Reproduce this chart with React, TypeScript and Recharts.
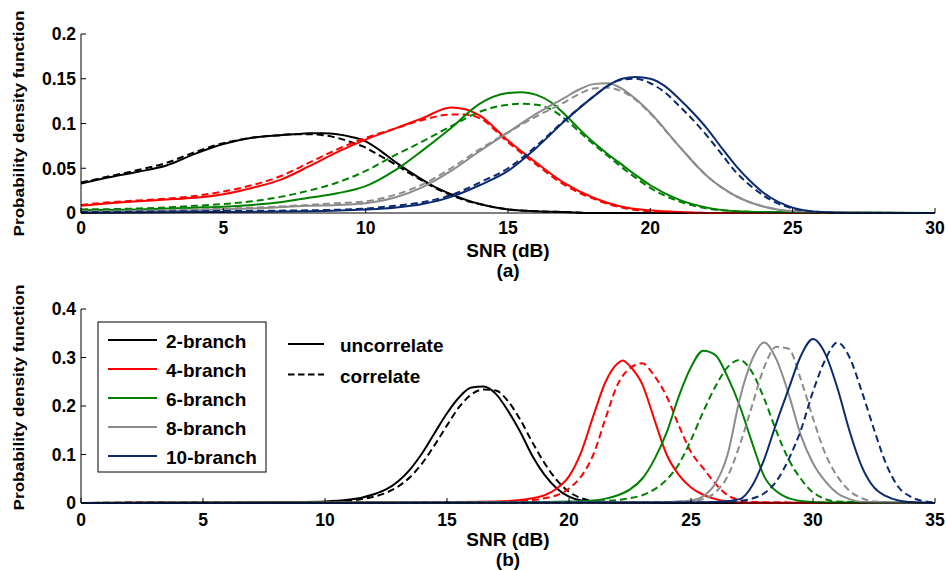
import { LineChart, Line, XAxis, YAxis } from 'recharts'

const FONT = '"Liberation Sans", Arial, Helvetica, sans-serif'

const branchNames = ['2-branch', '4-branch', '6-branch', '8-branch', '10-branch']
const branchColors = ['#000000', '#ff0000', '#008000', '#8c8c8c', '#0c2b6e']
const styleNames = ['uncorrelate', 'correlate']

// panel (a): SNR grid + pdf for uncorrelated / correlated
const aTicksX = [0, 5, 10, 15, 20, 25, 30]
const aTicksY = [0, 0.05, 0.1, 0.15, 0.2]

const a2x = [0, 1, 2, 3, 4, 5, 6, 7, 7.5, 8, 8.5, 9, 9.5, 10, 10.5, 11, 11.5, 12, 12.5, 13, 13.5, 14, 15, 16, 17, 18, 30]
const a2Unc = [0.033, 0.04, 0.046, 0.053, 0.066, 0.077, 0.084, 0.087, 0.088, 0.089, 0.089, 0.088, 0.085, 0.08, 0.07, 0.058, 0.047, 0.037, 0.028, 0.021, 0.015, 0.01, 0.004, 0.002, 0.001, 0, 0]
const a2Cor = [0.034, 0.041, 0.048, 0.056, 0.068, 0.078, 0.084, 0.087, 0.088, 0.088, 0.087, 0.084, 0.079, 0.073, 0.064, 0.055, 0.045, 0.036, 0.027, 0.02, 0.014, 0.01, 0.004, 0.002, 0.001, 0, 0]

const a4x = [0, 1, 2, 3, 4, 5, 6, 7, 8, 9, 10, 11, 12, 13, 13.5, 14, 15, 16, 17, 18, 19, 20, 21, 22, 30]
const a4Unc = [0.008, 0.011, 0.013, 0.015, 0.017, 0.021, 0.028, 0.037, 0.052, 0.068, 0.082, 0.094, 0.106, 0.118, 0.116, 0.109, 0.081, 0.056, 0.033, 0.017, 0.007, 0.003, 0.001, 0, 0]
const a4Cor = [0.009, 0.012, 0.014, 0.016, 0.019, 0.024, 0.031, 0.041, 0.056, 0.071, 0.084, 0.094, 0.104, 0.11, 0.11, 0.106, 0.079, 0.054, 0.031, 0.016, 0.006, 0.002, 0.001, 0, 0]

const a6x = [0, 2, 4, 5, 6, 7, 8, 9, 10, 11, 12, 13, 14, 15, 15.5, 16, 16.5, 17, 17.5, 18, 18.5, 19, 19.5, 20, 21, 22, 23, 24, 30]
const a6Unc = [0.003, 0.004, 0.006, 0.007, 0.009, 0.012, 0.017, 0.022, 0.03, 0.047, 0.07, 0.095, 0.122, 0.134, 0.135, 0.132, 0.124, 0.11, 0.094, 0.079, 0.066, 0.054, 0.042, 0.031, 0.015, 0.006, 0.002, 0.001, 0]
const a6Cor = [0.004, 0.005, 0.008, 0.01, 0.013, 0.018, 0.025, 0.034, 0.047, 0.064, 0.08, 0.097, 0.113, 0.121, 0.122, 0.121, 0.116, 0.105, 0.091, 0.077, 0.064, 0.051, 0.039, 0.028, 0.013, 0.005, 0.002, 0.001, 0]

const a8x = [0, 4, 6, 8, 9, 10, 11, 12, 13, 14, 15, 16, 17, 17.5, 18, 18.5, 19, 19.5, 20, 21, 22, 23, 24, 25, 26, 30]
const a8Unc = [0.001, 0.003, 0.005, 0.008, 0.009, 0.011, 0.017, 0.029, 0.047, 0.069, 0.09, 0.111, 0.129, 0.138, 0.144, 0.145, 0.139, 0.127, 0.112, 0.075, 0.041, 0.019, 0.007, 0.002, 0.001, 0]
const a8Cor = [0.002, 0.004, 0.006, 0.009, 0.011, 0.013, 0.02, 0.032, 0.05, 0.071, 0.09, 0.108, 0.124, 0.133, 0.139, 0.14, 0.136, 0.126, 0.111, 0.075, 0.041, 0.019, 0.007, 0.002, 0.001, 0]

const a10x = [0, 4, 8, 10, 11, 12, 13, 14, 15, 16, 17, 18, 18.5, 19, 19.5, 20, 20.5, 21, 21.5, 22, 22.5, 23, 23.5, 24, 25, 26, 27, 30]
const a10Unc = [0, 0.001, 0.002, 0.004, 0.006, 0.01, 0.018, 0.031, 0.047, 0.073, 0.103, 0.13, 0.142, 0.15, 0.152, 0.15, 0.142, 0.128, 0.112, 0.094, 0.073, 0.053, 0.036, 0.022, 0.006, 0.001, 0, 0]
const a10Cor = [0.001, 0.002, 0.003, 0.005, 0.008, 0.012, 0.02, 0.034, 0.05, 0.075, 0.104, 0.13, 0.142, 0.149, 0.15, 0.145, 0.135, 0.12, 0.104, 0.086, 0.066, 0.046, 0.031, 0.019, 0.005, 0.001, 0, 0]

// panel (b)
const bTicksX = [0, 5, 10, 15, 20, 25, 30, 35]
const bTicksY = [0, 0.1, 0.2, 0.3, 0.4]

const b2x = [0, 3, 6, 9, 10, 11, 11.5, 12, 12.5, 13, 13.5, 14, 14.5, 15, 15.5, 16, 16.5, 17, 17.5, 18, 18.5, 19, 19.5, 20, 20.5, 21, 22, 35]
const b2Unc = [0, 0.001, 0.001, 0.002, 0.003, 0.007, 0.011, 0.018, 0.028, 0.045, 0.07, 0.104, 0.145, 0.185, 0.218, 0.238, 0.24, 0.225, 0.19, 0.147, 0.097, 0.058, 0.03, 0.013, 0.005, 0.002, 0, 0]
const b2Cor = [0, 0.001, 0.001, 0.002, 0.002, 0.005, 0.008, 0.013, 0.021, 0.034, 0.054, 0.083, 0.12, 0.16, 0.198, 0.224, 0.234, 0.232, 0.21, 0.172, 0.125, 0.082, 0.047, 0.023, 0.01, 0.004, 0.001, 0]

const b4x = [0, 10, 15, 17, 18, 18.5, 19, 19.5, 20, 20.5, 21, 21.5, 22, 22.2, 22.5, 23, 23.5, 24, 24.5, 25, 25.5, 26, 26.5, 27, 27.5, 35]
const b4Unc = [0, 0.001, 0.002, 0.003, 0.006, 0.01, 0.016, 0.03, 0.055, 0.105, 0.18, 0.25, 0.288, 0.294, 0.282, 0.245, 0.172, 0.1, 0.058, 0.032, 0.017, 0.008, 0.003, 0.001, 0, 0]
const b4Cor = [0, 0.001, 0.001, 0.002, 0.004, 0.006, 0.01, 0.016, 0.03, 0.055, 0.1, 0.175, 0.245, 0.262, 0.278, 0.288, 0.262, 0.22, 0.16, 0.105, 0.072, 0.04, 0.016, 0.006, 0.002, 0]

const b6x = [0, 15, 19, 20, 21, 21.5, 22, 22.5, 23, 23.5, 24, 24.5, 25, 25.5, 26, 26.5, 27, 27.5, 28, 28.5, 29, 29.5, 30, 31, 35]
const b6Unc = [0, 0.001, 0.002, 0.003, 0.005, 0.009, 0.016, 0.028, 0.05, 0.09, 0.145, 0.22, 0.28, 0.314, 0.305, 0.26, 0.2, 0.125, 0.055, 0.024, 0.01, 0.004, 0.002, 0.001, 0]
const b6Cor = [0, 0.001, 0.001, 0.002, 0.003, 0.004, 0.006, 0.01, 0.016, 0.028, 0.048, 0.08, 0.13, 0.188, 0.24, 0.28, 0.295, 0.27, 0.215, 0.148, 0.09, 0.05, 0.022, 0.003, 0]

const b8x = [0, 20, 23, 24, 25, 25.5, 26, 26.5, 27, 27.5, 28, 28.5, 29, 29.5, 30, 30.5, 31, 31.5, 32, 32.5, 35]
const b8Unc = [0, 0.001, 0.001, 0.002, 0.005, 0.014, 0.04, 0.1, 0.215, 0.295, 0.331, 0.296, 0.225, 0.14, 0.082, 0.045, 0.02, 0.008, 0.002, 0.001, 0]
const b8Cor = [0, 0.001, 0.001, 0.002, 0.003, 0.008, 0.022, 0.055, 0.12, 0.2, 0.28, 0.322, 0.318, 0.255, 0.175, 0.102, 0.055, 0.025, 0.01, 0.003, 0]

const b10x = [0, 24, 26, 27, 27.5, 28, 28.5, 29, 29.5, 30, 30.5, 31, 31.5, 32, 32.5, 33, 33.5, 34, 34.5, 35]
const b10Unc = [0, 0.001, 0.002, 0.008, 0.035, 0.09, 0.165, 0.235, 0.303, 0.338, 0.308, 0.237, 0.148, 0.075, 0.032, 0.014, 0.005, 0.002, 0.001, 0]
const b10Cor = [0, 0.001, 0.001, 0.004, 0.009, 0.02, 0.045, 0.09, 0.15, 0.23, 0.295, 0.331, 0.3, 0.23, 0.152, 0.08, 0.033, 0.013, 0.004, 0.001]

type Pt = { x: number; y: number }
type Curve = { key: string; color: string; dashed: boolean; data: Pt[] }

const zip = (xs: number[], ys: number[]): Pt[] => xs.map((x, i) => ({ x, y: ys[i] }))

function buildCurves(groups: number[][][]): Curve[] {
  const out: Curve[] = []
  groups.forEach(([xs, unc, cor], i) => {
    out.push({ key: `u${i}`, color: branchColors[i], dashed: false, data: zip(xs, unc) })
    out.push({ key: `c${i}`, color: branchColors[i], dashed: true, data: zip(xs, cor) })
  })
  return out
}

const curvesA = buildCurves([[a2x, a2Unc, a2Cor], [a4x, a4Unc, a4Cor], [a6x, a6Unc, a6Cor], [a8x, a8Unc, a8Cor], [a10x, a10Unc, a10Cor]])
const curvesB = buildCurves([[b2x, b2Unc, b2Cor], [b4x, b4Unc, b4Cor], [b6x, b6Unc, b6Cor], [b8x, b8Unc, b8Cor], [b10x, b10Unc, b10Cor]])

const W = 946
const H = 285
const PLOT_L = 81
const PLOT_R = 935
const TICK_FS = 17.5
const boldText = { fontFamily: FONT, fontWeight: 700 }

// tick renderers so the font really is what we want
const XTick = (props: any) => (
  <text x={props.x} y={props.y} dy="0.72em" textAnchor="middle" fill="#000" style={{ ...boldText, fontSize: TICK_FS }}>
    {String(props.payload.value)}
  </text>
)
const YTick = (props: any) => (
  <text x={props.x} y={props.y} dy="0.36em" textAnchor="end" fill="#000" style={{ ...boldText, fontSize: TICK_FS }}>
    {String(props.payload.value)}
  </text>
)

interface PanelProps {
  top: number
  plotTop: number
  plotBottom: number
  xMax: number
  xTicks: number[]
  yMax: number
  yTicks: number[]
  curves: Curve[]
  tag: string
  tickGap: number
  yLabelMid: number
  snrDy: number
  tagDy: number
}

function Panel(p: PanelProps) {
  const cx = (PLOT_L + PLOT_R) / 2
  return (
    <div style={{ position: 'absolute', left: 0, top: p.top }}>
      <LineChart width={W} height={H} margin={{ top: p.plotTop, right: W - PLOT_R, bottom: H - p.plotBottom - 30, left: 0 }}>
        <XAxis
          xAxisId="b" type="number" dataKey="x" domain={[0, p.xMax]} ticks={p.xTicks} interval={0}
          height={30} stroke="#000" tickSize={-5} tickMargin={p.tickGap} tick={XTick}
          label={() => (
            <g style={{ ...boldText, fontSize: 19 }}>
              <text x={cx} y={p.plotBottom + p.snrDy} textAnchor="middle" fill="#000">SNR (dB)</text>
              <text x={cx} y={p.plotBottom + p.tagDy} textAnchor="middle" fill="#000">{p.tag}</text>
            </g>
          )}
        />
        <XAxis xAxisId="t" orientation="top" type="number" dataKey="x" domain={[0, p.xMax]} ticks={p.xTicks} interval={0}
          height={0} stroke="#000" tickSize={-5} tick={false} />
        <YAxis
          yAxisId="l" type="number" domain={[0, p.yMax]} ticks={p.yTicks} interval={0} width={PLOT_L}
          stroke="#000" tickSize={-5} tickMargin={10} tick={YTick}
          label={() => (
            <text
              x={23.5} y={p.yLabelMid} transform={`rotate(-90 23.5 ${p.yLabelMid})`} textAnchor="middle"
              textLength={226} lengthAdjust="spacingAndGlyphs"
              style={{ ...boldText, fontSize: 15 }} fill="#000"
            >
              Probability density function
            </text>
          )}
        />
        <YAxis yAxisId="r" orientation="right" type="number" domain={[0, p.yMax]} ticks={p.yTicks} interval={0}
          width={0} stroke="#000" tickSize={-5} tick={false} />
        {p.curves.map(c => (
          <Line
            key={c.key} xAxisId="b" yAxisId="l" data={c.data} dataKey="y" type="monotone"
            stroke={c.color} strokeWidth={2} strokeDasharray={c.dashed ? '7 4' : undefined}
            dot={false} activeDot={false} isAnimationActive={false}
          />
        ))}
      </LineChart>
    </div>
  )
}

function Legends() {
  const rowY = (i: number) => 340 + i * 29
  return (
    <svg width={W} height={570} style={{ position: 'absolute', left: 0, top: 0, pointerEvents: 'none' }}>
      <rect x={98} y={322} width={168} height={150} fill="#fff" stroke="#000" strokeWidth={1} />
      {branchNames.map((n, i) => (
        <g key={n}>
          <line x1={108} x2={157} y1={rowY(i)} y2={rowY(i)} stroke={branchColors[i]} strokeWidth={2} />
          <text x={166} y={rowY(i) + 8} fill="#000" style={{ ...boldText, fontSize: 19 }}>{n}</text>
        </g>
      ))}
      {styleNames.map((n, i) => (
        <g key={n}>
          <line x1={288} x2={324} y1={344 + i * 30.5} y2={344 + i * 30.5} stroke="#000" strokeWidth={2}
            strokeDasharray={i === 1 ? '6.5 3.5' : undefined} />
          <text x={340} y={352 + i * 30.5} fill="#000" style={{ ...boldText, fontSize: 19 }}>{n}</text>
        </g>
      ))}
    </svg>
  )
}

export default function App() {
  return (
    <div style={{ position: 'absolute', left: 0, top: 0, width: W, height: 570, background: '#fff', overflow: 'hidden' }}>
      <Panel top={0} plotTop={34} plotBottom={213} xMax={30} xTicks={aTicksX} yMax={0.2} yTicks={aTicksY}
        curves={curvesA} tag="(a)" tickGap={13.5} yLabelMid={123.5} snrDy={43.5} tagDy={63.5} />
      <Panel top={H} plotTop={24} plotBottom={218} xMax={35} xTicks={bTicksX} yMax={0.4} yTicks={bTicksY}
        curves={curvesB} tag="(b)" tickGap={15} yLabelMid={112.5} snrDy={42.5} tagDy={62.5} />
      <Legends />
    </div>
  )
}
